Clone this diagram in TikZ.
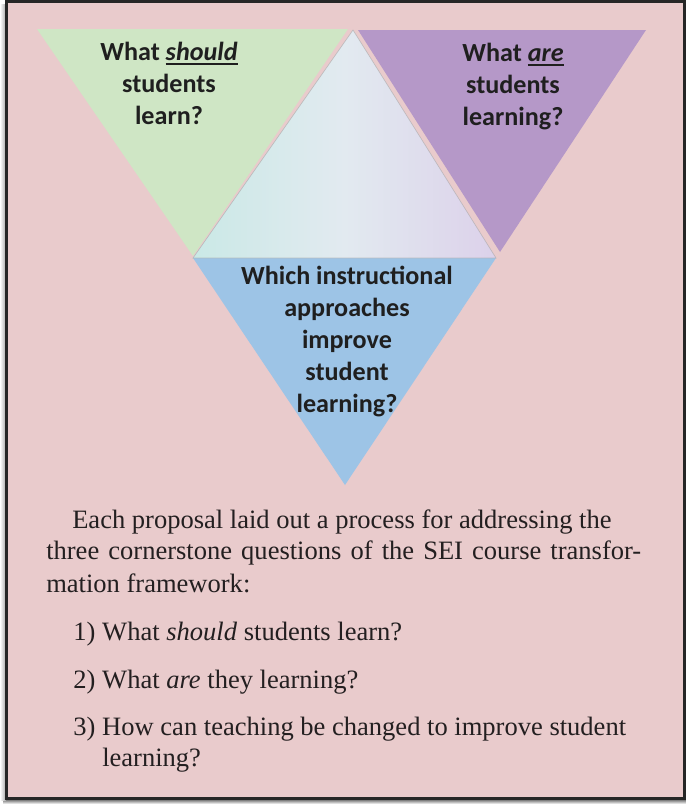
\documentclass[tikz,border=0pt]{standalone}
\usepackage{fontspec}
\setmainfont{Liberation Serif}
\newfontfamily\calib{Carlito}
\definecolor{bgpink}{HTML}{E9CBCC}
\definecolor{greenT}{HTML}{CFE6C5}
\definecolor{purpT}{HTML}{B598C8}
\definecolor{blueT}{HTML}{9DC4E6}
\definecolor{midL}{HTML}{CAE9E6}
\definecolor{midM}{HTML}{E2EAF0}
\definecolor{midR}{HTML}{DCD1EA}
\definecolor{inkT}{HTML}{231F20}
\newcommand\myul[1]{\setbox0\hbox{#1}\rlap{\rule[-3.4pt]{\wd0}{1.5pt}}\box0}
\tikzset{
  tritext/.style={font=\calib\bfseries\fontsize{19.6}{24}\selectfont, align=center, inner sep=0pt, text=black!88, anchor=base},
  bodytext/.style={font=\fontsize{19.9}{24}\selectfont, inner sep=0pt, text=inkT, anchor=base west}
}
\begin{document}
\begin{tikzpicture}[x=0.75pt,y=-0.75pt]
\useasboundingbox (0,0) rectangle (686,804);
\fill[white] (0,0) rectangle (686,804);
% shadow
\shade[top color=black!75, bottom color=white] (3,798) rectangle (686,804);
\shade[left color=white, right color=black!35] (0,4) rectangle (6,800);
% frame
\draw[line width=2.25pt, draw=black!85, fill=bgpink] (6.5,1.5) rectangle (684.5,798.5);
% triangles
\fill[greenT] (37,29) -- (348,29) -- (193,256) -- cycle;
\fill[purpT] (358,30) -- (646,30) -- (500,252) -- cycle;
\fill[blueT] (193,258) -- (496,258) -- (345,485) -- cycle;
\shade[left color=midL, right color=midR, middle color=midM] (353,30) -- (193,258) -- (496,258) -- cycle;
\draw[line width=0.5pt, draw=black!35, opacity=0.6] (353,30) -- (193,258) -- (496,258) -- cycle;
% triangle texts (anchored at the baseline of the last line)
\node[tritext] (tg) at (169,124) {What \myul{\textit{should}}\\students\\learn?};
\node[tritext] (tp) at (513,125) {What \myul{\textit{are}}\\students\\learning?};
\node[tritext] (tb) at (347,412) {Which instructional\\approaches\\improve\\student\\learning?};
% body text
\node[bodytext] (l1) at (72,528) {Each proposal laid out a process for addressing the};
\node[bodytext] (l2) at (46,559) {\makebox[446.25pt][s]{three cornerstone questions of the SEI course transfor-}};
\node[bodytext] (l3) at (46,592) {mation framework:};
\node[bodytext] (i1) at (73,640) {\makebox[21.75pt][l]{1)}What \textit{should} students learn?};
\node[bodytext] (i2) at (73,688) {\makebox[21.75pt][l]{2)}What \textit{are} they learning?};
\node[bodytext] (i3) at (73,735) {\makebox[21.75pt][l]{3)}How can teaching be changed to improve student};
\node[bodytext] (i3b) at (102,766) {learning?};
\end{tikzpicture}
\end{document}
